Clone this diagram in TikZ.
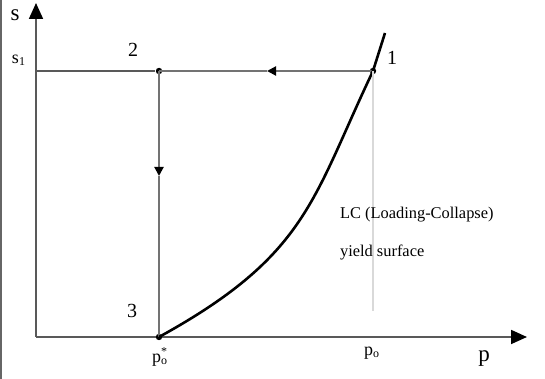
\documentclass[tikz,border=0pt]{standalone}
\usepackage{fontspec}
\setmainfont{Liberation Serif}
\usetikzlibrary{arrows.meta}

\begin{document}
\begin{tikzpicture}[x=0.5pt, y=0.5pt,
    axis/.style={draw=black!65, line width=0.9pt, -{Triangle[length=8pt,width=7pt,black]}},
    path/.style={draw=black!55, line width=1pt},
    mid/.style={-{Triangle[length=4.5pt,width=4.5pt,black]}},
    dot/.style={circle, fill=black, inner sep=0pt, minimum size=3.2pt},
    lbl/.style={font=\fontsize{10}{12}\selectfont},
    sublbl/.style={font=\fontsize{9}{11}\selectfont}]
    \useasboundingbox (0,0) rectangle (545,379);
    \draw[black!60, line width=1pt] (0.5,0) -- (0.5,379);

    % Axes
    \coordinate (O) at (36,42);
    \coordinate (stop) at (36,376);
    \coordinate (pend) at (527,42);
    \draw[axis] (O) -- (stop);
    \draw[axis] (O) -- (pend);
    \node[font=\fontsize{11.5}{13}\selectfont] (s) at (15,364) {s};
    \node[font=\fontsize{11.5}{13}\selectfont] (p) at (484,20) {p};
    \node[sublbl] (s1) at (19,319) {s\textsubscript{1}};

    % Stress path points
    \node[dot] (p1) at (373,308) {};
    \node[dot] (p2) at (159,308) {};
    \node[dot] (p3) at (159,42) {};
    \node[lbl] at (392,321) {1};
    \node[lbl] at (133,329) {2};
    \node[lbl] at (132,68) {3};
    \coordinate (s1l) at (36,308);
    \draw[path, draw=black!65, line width=0.9pt] (s1l) -- (p2);

    % Path 1 -> 2 -> 3
    \coordinate (a12) at (267,308);
    \coordinate (a23) at (159,203);
    \draw[path, mid] (p1.center) -- (a12);
    \draw[path] (a12) -- (p2.center);
    \draw[path, mid] (p2.center) -- (a23);
    \draw[path] (a23) -- (p3.center);

    % LC yield surface
    \coordinate (lctop) at (385,346);
    \draw[line width=1.3pt] (p3.center) .. controls (308,124) and (312,180) .. (p1.center) -- (lctop);
    \coordinate (pofoot) at (373,68);
    \draw[black!15, line width=0.6pt] (p1.center) -- (pofoot);

    % Labels on p axis
    \node[sublbl] (po) at (372,26) {p\textsubscript{o}};
    \node[sublbl] (postar) at (160,22) {p\rlap{\textsuperscript{*}}\textsubscript{o}};

    \node[anchor=west, font=\fontsize{8.2}{10}\selectfont] (lc) at (333,164) {LC (Loading-Collapse)};
    \node[anchor=west, font=\fontsize{8.2}{10}\selectfont] (ys) at (333,126) {yield surface};
\end{tikzpicture}
\end{document}
